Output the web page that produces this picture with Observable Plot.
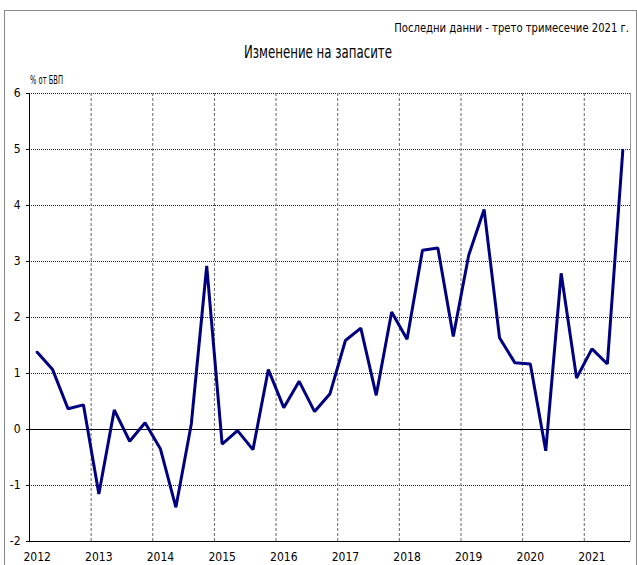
<!DOCTYPE html>
<html><head><meta charset="utf-8">
<script src="https://cdn.jsdelivr.net/npm/d3@7"></script>
<script src="https://cdn.jsdelivr.net/npm/@observablehq/plot@0.6"></script>
<style>body{margin:0;background:#fff} svg{display:block}</style>
</head><body><div id="chart"></div>
<script>
const years = [2012, 2013, 2014, 2015, 2016, 2017, 2018, 2019, 2020, 2021];
const quarterLabels = [
  "2012Q1","2012Q2","2012Q3","2012Q4","2013Q1","2013Q2","2013Q3","2013Q4",
  "2014Q1","2014Q2","2014Q3","2014Q4","2015Q1","2015Q2","2015Q3","2015Q4",
  "2016Q1","2016Q2","2016Q3","2016Q4","2017Q1","2017Q2","2017Q3","2017Q4",
  "2018Q1","2018Q2","2018Q3","2018Q4","2019Q1","2019Q2","2019Q3","2019Q4",
  "2020Q1","2020Q2","2020Q3","2020Q4","2021Q1","2021Q2","2021Q3"
];
const values = [
  1.38, 1.07, 0.37, 0.44, -1.15, 0.35, -0.21, 0.12,
  -0.35, -1.39, 0.10, 2.92, -0.26, -0.02, -0.36, 1.07,
  0.39, 0.86, 0.32, 0.64, 1.59, 1.81, 0.61, 2.10,
  1.61, 3.20, 3.24, 1.66, 3.11, 3.93, 1.64, 1.19,
  1.17, -0.38, 2.79, 0.92, 1.44, 1.17, 4.98
];
const yTicks = [-2, -1, 0, 1, 2, 3, 4, 5, 6];
const title = "Изменение на запасите";
const subtitle = "Последни данни - трето тримесечие 2021 г.";
const yLabel = "% от БВП";

const data = quarterLabels.map((q, i) => {
  const yr = +q.slice(0, 4), qn = +q.slice(5);
  return {q, x: yr + (qn - 0.5) / 4, v: values[i]};
});

const font = "'DejaVu Sans Condensed','Liberation Sans Narrow',sans-serif";
const W = 637, H = 565;
const plot = Plot.plot({
  width: W, height: H,
  marginLeft: 29, marginRight: 7, marginTop: 93, marginBottom: 24,
  style: {fontFamily: font, fontSize: "12px", background: "#fff", color: "#000"},
  x: {domain: [2012, 2021.75]},
  y: {domain: [-2, 6]},
  marks: [
    Plot.ruleY(yTicks.filter(d => d !== 0 && d !== -2), {stroke: "#222", strokeDasharray: "1,1", strokeWidth: 1}),
    Plot.ruleX(years.slice(1), {stroke: "#666", strokeDasharray: "3,2", strokeWidth: 1}),
    Plot.ruleX([2021.75], {stroke: "#999", strokeWidth: 1}),
    Plot.ruleY([0], {stroke: "#000", strokeWidth: 1}),
    Plot.ruleY([-2], {stroke: "#000", strokeWidth: 1}),
    Plot.ruleX([2012], {stroke: "#000", strokeWidth: 1}),
    Plot.axisY({ticks: yTicks, tickSize: 3, tickPadding: 6, label: null, tickFormat: d => String(d)}),
    Plot.axisX({ticks: years.map(y => y + 0.125), tickFormat: d => String(Math.floor(d)), tickSize: 0, tickPadding: 11, label: null}),
    Plot.line(data, {x: "x", y: "v", stroke: "#000080", strokeWidth: 3, strokeLinejoin: "miter"})
  ]
});
document.getElementById("chart").appendChild(plot);

const svg = d3.select(plot);
svg.insert("rect", ":first-child")
  .attr("x", 4.5).attr("y", 10.5).attr("width", 632).attr("height", 560)
  .attr("fill", "none").attr("stroke", "#888").attr("stroke-width", 1);
svg.append("text").text(subtitle)
  .attr("transform", "translate(629,32) scale(0.86,1)").attr("text-anchor", "end")
  .attr("font-family", font).attr("font-size", 13).attr("fill", "#000");
svg.append("text").text(title)
  .attr("x", 318).attr("y", 58).attr("text-anchor", "middle")
  .attr("textLength", 148).attr("lengthAdjust", "spacingAndGlyphs")
  .attr("font-family", font).attr("font-size", 17).attr("fill", "#000");
svg.append("text").text(yLabel)
  .attr("x", 30).attr("y", 84).attr("text-anchor", "start")
  .attr("textLength", 33).attr("lengthAdjust", "spacingAndGlyphs")
  .attr("font-family", font).attr("font-size", 13).attr("fill", "#000");
</script>
</body></html>
